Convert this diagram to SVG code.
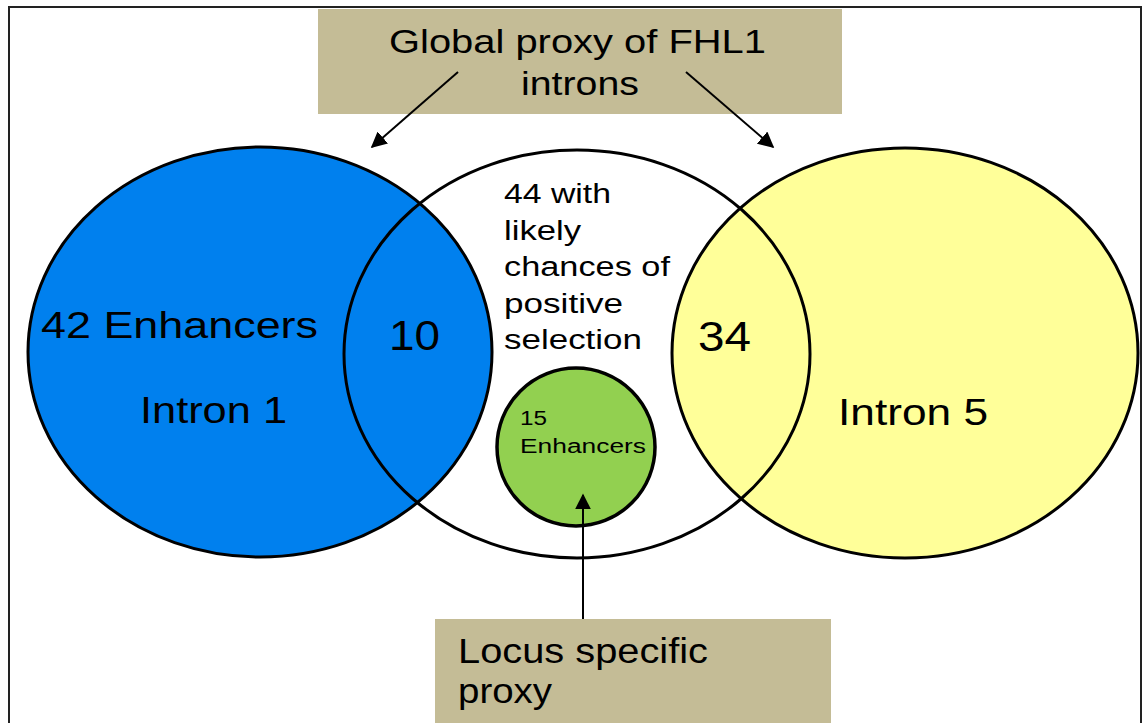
<svg xmlns="http://www.w3.org/2000/svg" width="1143" height="723" viewBox="0 0 1143 723">
  <style>
    .lbl { font-family: "Liberation Sans", Arial, sans-serif; fill: #000; }
    .outline { fill: none; stroke: #000; stroke-width: 3; }
    .box { fill: #C4BC96; }
    .conn { stroke: #000; stroke-width: 2; fill: none; }
  </style>
  <defs>
    <marker id="head" viewBox="0 0 10 10" refX="9" refY="5" markerWidth="16" markerHeight="16" markerUnits="userSpaceOnUse" orient="auto">
      <path d="M0,0 L10,5 L0,10 z" fill="#000"/>
    </marker>
  </defs>

  <rect x="0" y="0" width="1143" height="723" fill="#fff"/>
  <!-- outer frame -->
  <rect x="9" y="7" width="1132" height="730" fill="none" stroke="#222" stroke-width="2"/>

  <!-- set fills: middle set first so the side sets cover the overlaps -->
  <g id="fills">
    <ellipse cx="577" cy="354" rx="233" ry="204" fill="#fff"/>
    <ellipse cx="260" cy="352" rx="232" ry="205" fill="#0080EE"/>
    <ellipse cx="905" cy="353" rx="233" ry="205" fill="#FFFF99"/>
  </g>

  <g id="node-intron1">
    <ellipse class="outline" cx="260" cy="352" rx="232" ry="205"/>
    <text class="lbl" x="41" y="338" font-size="36" textLength="277" lengthAdjust="spacingAndGlyphs">42 Enhancers</text>
    <text class="lbl" x="140" y="423" font-size="37" textLength="147" lengthAdjust="spacingAndGlyphs">Intron 1</text>
    <text class="lbl" x="389" y="350" font-size="42" textLength="51" lengthAdjust="spacingAndGlyphs">10</text>
  </g>

  <g id="node-selection">
    <ellipse class="outline" cx="577" cy="354" rx="233" ry="204"/>
    <text class="lbl" x="504" y="203" font-size="27" textLength="107" lengthAdjust="spacingAndGlyphs">44 with</text>
    <text class="lbl" x="504" y="240" font-size="27" textLength="77" lengthAdjust="spacingAndGlyphs">likely</text>
    <text class="lbl" x="504" y="276" font-size="27" textLength="166" lengthAdjust="spacingAndGlyphs">chances of</text>
    <text class="lbl" x="504" y="313" font-size="27" textLength="119" lengthAdjust="spacingAndGlyphs">positive</text>
    <text class="lbl" x="504" y="349" font-size="27" textLength="138" lengthAdjust="spacingAndGlyphs">selection</text>
  </g>

  <g id="node-intron5">
    <ellipse class="outline" cx="905" cy="353" rx="233" ry="205"/>
    <text class="lbl" x="698" y="351" font-size="42" textLength="53" lengthAdjust="spacingAndGlyphs">34</text>
    <text class="lbl" x="838" y="425" font-size="37" textLength="150" lengthAdjust="spacingAndGlyphs">Intron 5</text>
  </g>

  <g id="node-locus-set">
    <circle cx="576" cy="447" r="79" fill="#92D050" stroke="#000" stroke-width="3.5"/>
    <text class="lbl" x="520" y="425" font-size="20" textLength="27" lengthAdjust="spacingAndGlyphs">15</text>
    <text class="lbl" x="520" y="453" font-size="20" textLength="126" lengthAdjust="spacingAndGlyphs">Enhancers</text>
  </g>

  <g id="node-global">
    <rect class="box" x="318" y="9" width="524" height="105"/>
    <text class="lbl" x="389" y="53" font-size="33" textLength="377" lengthAdjust="spacingAndGlyphs">Global proxy of FHL1</text>
    <text class="lbl" x="521" y="95" font-size="33" textLength="118" lengthAdjust="spacingAndGlyphs">introns</text>
  </g>

  <g id="node-locus">
    <rect class="box" x="435" y="619" width="396" height="104"/>
    <text class="lbl" x="458" y="663" font-size="35" textLength="250" lengthAdjust="spacingAndGlyphs">Locus specific</text>
    <text class="lbl" x="458" y="703" font-size="35" textLength="94" lengthAdjust="spacingAndGlyphs">proxy</text>
  </g>

  <g id="connectors">
    <line class="conn" x1="458" y1="72" x2="372" y2="147" marker-end="url(#head)"/>
    <line class="conn" x1="686" y1="72" x2="773" y2="147" marker-end="url(#head)"/>
    <line class="conn" x1="583" y1="619" x2="583" y2="495" marker-end="url(#head)"/>
  </g>
</svg>
